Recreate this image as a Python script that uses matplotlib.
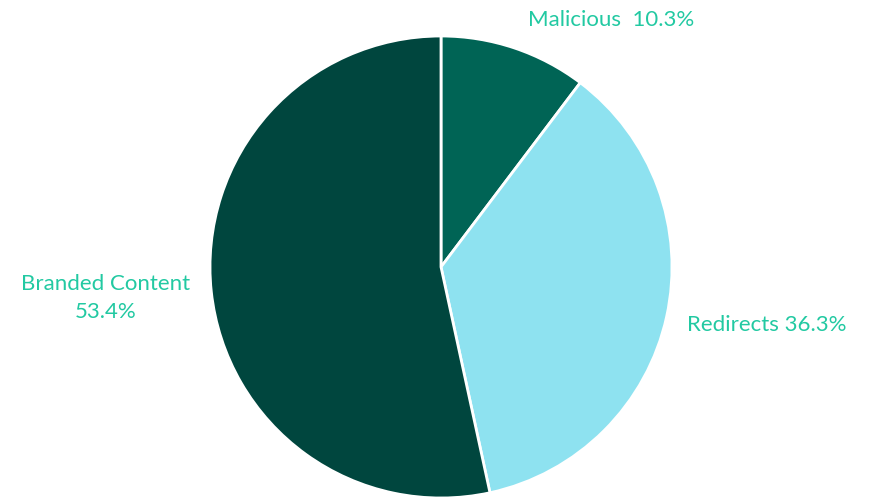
import matplotlib
matplotlib.use("Agg")
import matplotlib.pyplot as plt

labels = ["Malicious", "Redirects", "Branded Content"]
shares = [10.3, 36.3, 53.4]
colors = ["#006455", "#8EE2F0", "#00463E"]

plt.rcParams['font.family'] = ['Lato', 'DejaVu Sans']

W, H = 871, 499
fig = plt.figure(figsize=(W / 100, H / 100), dpi=100)

# pie centre (441, 267) px, radius 231 px
cx, cy, r = 441, 267, 231
ax = fig.add_axes([(cx - r) / W, (H - cy - r) / H, 2 * r / W, 2 * r / H])
ax.pie(shares, colors=colors, startangle=90, counterclock=False,
       wedgeprops=dict(edgecolor="white", linewidth=2))
ax.set_xlim(-1, 1)
ax.set_ylim(-1, 1)
ax.set_aspect("equal")
ax.axis("off")

txt = "#22C9A2"
fs = 16
fig.text(611 / W, 1 - 20 / H, f"{labels[0]}  {shares[0]}%", color=txt,
         fontsize=fs, ha="center", va="center")
fig.text(767 / W, 1 - 325 / H, f"{labels[1]} {shares[1]}%", color=txt,
         fontsize=fs, ha="center", va="center")
fig.text(106 / W, 1 - 298 / H, f"{labels[2]}\n{shares[2]}%", color=txt,
         fontsize=fs, ha="center", va="center", linespacing=1.5)

fig.savefig("out.png", dpi=100)
